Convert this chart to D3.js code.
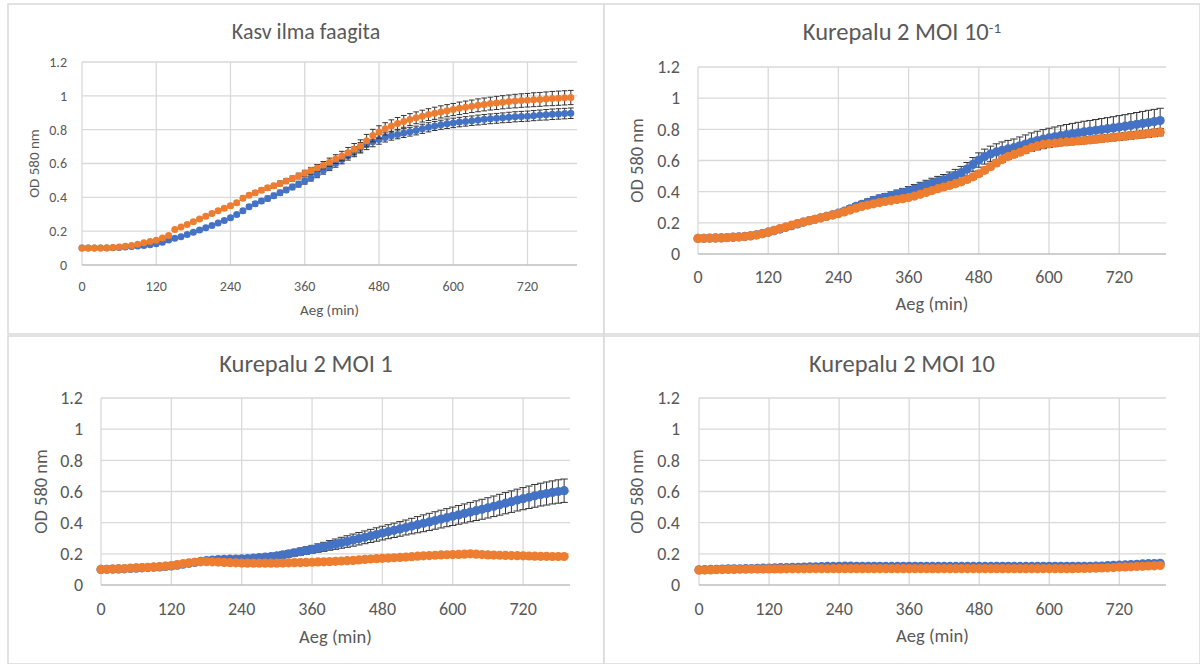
<!DOCTYPE html>
<html>
<head>
<meta charset="utf-8">
<script src="https://cdn.jsdelivr.net/npm/d3@7"></script>
<style>
  body { margin: 0; background: #fff; }
  svg { display: block; font-family: Carlito, Lato, "Open Sans", sans-serif; }
</style>
</head>
<body>
<svg id="chart" width="1200" height="664"></svg>
<script>
// sampling times (min)
const times = [0,10,20,30,40,50,60,70,80,90,100,110,120,130,140,150,160,170,180,190,
  200,210,220,230,240,250,260,270,280,290,300,310,320,330,340,350,360,370,380,390,
  400,410,420,430,440,450,460,470,480,490,500,510,520,530,540,550,560,570,580,590,
  600,610,620,630,640,650,660,670,680,690,700,710,720,730,740,750,760,770,780,790];

const xTicks = [0, 120, 240, 360, 480, 600, 720];
const yTicks = [0, 0.2, 0.4, 0.6, 0.8, 1, 1.2];
const yTickLabels = ["0", "0.2", "0.4", "0.6", "0.8", "1", "1.2"];

// Kasv ilma faagita
const growthBlue = [0.100,0.100,0.100,0.100,0.101,0.102,0.104,0.106,0.109,0.112,
  0.116,0.120,0.125,0.135,0.148,0.158,0.167,0.180,0.194,0.207,
  0.220,0.234,0.248,0.263,0.279,0.298,0.320,0.345,0.362,0.378,
  0.393,0.410,0.427,0.444,0.461,0.478,0.496,0.515,0.536,0.558,
  0.580,0.602,0.624,0.648,0.670,0.693,0.712,0.728,0.742,0.754,
  0.764,0.772,0.780,0.788,0.795,0.805,0.814,0.822,0.829,0.835,
  0.840,0.845,0.849,0.853,0.857,0.861,0.864,0.867,0.870,0.873,
  0.876,0.878,0.880,0.883,0.886,0.888,0.891,0.893,0.895,0.897];
const growthBlueErr = [0.002,0.002,0.002,0.002,0.002,0.002,0.003,0.003,0.003,0.004,
  0.004,0.004,0.005,0.005,0.006,0.006,0.007,0.007,0.008,0.008,
  0.009,0.009,0.010,0.010,0.011,0.011,0.012,0.012,0.013,0.013,
  0.014,0.014,0.015,0.015,0.016,0.017,0.018,0.019,0.020,0.021,
  0.022,0.024,0.026,0.028,0.030,0.031,0.030,0.029,0.028,0.027,
  0.026,0.026,0.026,0.026,0.026,0.027,0.027,0.027,0.027,0.028,
  0.028,0.028,0.028,0.028,0.029,0.029,0.029,0.029,0.029,0.030,
  0.030,0.030,0.030,0.030,0.030,0.031,0.031,0.031,0.031,0.031];
const growthOrange = [0.100,0.100,0.100,0.101,0.102,0.104,0.107,0.111,0.116,0.123,
  0.131,0.139,0.147,0.160,0.175,0.210,0.225,0.240,0.256,0.272,
  0.288,0.305,0.320,0.335,0.350,0.368,0.395,0.412,0.427,0.442,
  0.456,0.468,0.482,0.496,0.510,0.526,0.542,0.558,0.574,0.590,
  0.608,0.626,0.644,0.664,0.684,0.704,0.735,0.765,0.786,0.805,
  0.822,0.837,0.849,0.860,0.870,0.880,0.889,0.897,0.905,0.912,
  0.919,0.926,0.932,0.938,0.944,0.949,0.954,0.958,0.962,0.966,
  0.969,0.972,0.974,0.977,0.979,0.982,0.984,0.986,0.988,0.990];
const growthOrangeErr = [0.002,0.002,0.002,0.002,0.002,0.003,0.003,0.003,0.004,0.004,
  0.005,0.005,0.006,0.006,0.007,0.007,0.008,0.008,0.009,0.009,
  0.010,0.010,0.010,0.011,0.011,0.012,0.012,0.012,0.013,0.013,
  0.014,0.014,0.015,0.015,0.016,0.017,0.018,0.019,0.020,0.022,
  0.024,0.026,0.028,0.031,0.034,0.036,0.037,0.037,0.037,0.036,
  0.036,0.035,0.035,0.035,0.035,0.035,0.035,0.036,0.036,0.036,
  0.036,0.037,0.037,0.037,0.038,0.038,0.038,0.039,0.039,0.039,
  0.040,0.040,0.040,0.041,0.041,0.041,0.042,0.042,0.042,0.042];

// Kurepalu 2 MOI 10^-1
const moi01Blue = [0.100,0.101,0.102,0.103,0.104,0.106,0.108,0.110,0.113,0.117,
  0.123,0.131,0.140,0.150,0.160,0.171,0.182,0.193,0.204,0.214,
  0.223,0.232,0.242,0.252,0.262,0.275,0.290,0.305,0.318,0.332,
  0.345,0.355,0.364,0.374,0.384,0.394,0.405,0.417,0.430,0.442,
  0.454,0.465,0.476,0.490,0.505,0.522,0.545,0.575,0.603,0.625,
  0.642,0.655,0.665,0.674,0.682,0.694,0.706,0.718,0.728,0.737,
  0.745,0.752,0.759,0.766,0.772,0.778,0.784,0.789,0.794,0.799,
  0.804,0.809,0.815,0.820,0.826,0.832,0.838,0.844,0.850,0.856];
const moi01BlueErr = [0.003,0.003,0.003,0.004,0.004,0.004,0.005,0.005,0.005,0.006,
  0.006,0.007,0.007,0.008,0.008,0.009,0.009,0.010,0.010,0.011,
  0.012,0.013,0.014,0.015,0.016,0.017,0.018,0.019,0.020,0.021,
  0.022,0.023,0.024,0.025,0.026,0.027,0.028,0.029,0.030,0.031,
  0.032,0.033,0.034,0.036,0.038,0.040,0.042,0.044,0.046,0.048,
  0.050,0.052,0.054,0.055,0.056,0.057,0.058,0.059,0.060,0.061,
  0.062,0.063,0.064,0.065,0.066,0.067,0.068,0.068,0.069,0.070,
  0.071,0.072,0.073,0.074,0.075,0.076,0.077,0.078,0.078,0.079];
const moi01Orange = [0.100,0.100,0.101,0.102,0.103,0.105,0.107,0.109,0.112,0.116,
  0.122,0.130,0.140,0.151,0.163,0.174,0.185,0.195,0.205,0.214,
  0.223,0.232,0.241,0.250,0.259,0.270,0.282,0.294,0.305,0.314,
  0.322,0.330,0.337,0.343,0.349,0.355,0.362,0.372,0.383,0.395,
  0.407,0.419,0.430,0.440,0.451,0.463,0.478,0.495,0.515,0.537,
  0.560,0.584,0.606,0.625,0.639,0.653,0.668,0.682,0.694,0.703,
  0.708,0.712,0.716,0.719,0.722,0.725,0.728,0.732,0.736,0.740,
  0.744,0.748,0.752,0.756,0.760,0.764,0.768,0.772,0.777,0.782];
const moi01OrangeErr = [0.002,0.002,0.002,0.002,0.003,0.003,0.003,0.003,0.004,0.004,
  0.004,0.005,0.005,0.005,0.006,0.006,0.006,0.007,0.007,0.007,
  0.008,0.008,0.008,0.009,0.009,0.009,0.010,0.010,0.010,0.011,
  0.011,0.011,0.012,0.012,0.012,0.013,0.013,0.013,0.014,0.014,
  0.014,0.015,0.015,0.015,0.016,0.016,0.016,0.017,0.017,0.017,
  0.018,0.018,0.018,0.018,0.019,0.019,0.019,0.019,0.020,0.020,
  0.020,0.020,0.020,0.021,0.021,0.021,0.021,0.021,0.022,0.022,
  0.022,0.022,0.022,0.023,0.023,0.023,0.023,0.023,0.024,0.024];

// Kurepalu 2 MOI 1
const moi1Blue = [0.100,0.101,0.102,0.103,0.104,0.106,0.108,0.110,0.112,0.114,
  0.116,0.119,0.122,0.127,0.133,0.139,0.145,0.151,0.156,0.160,
  0.163,0.165,0.166,0.167,0.168,0.170,0.173,0.176,0.179,0.183,
  0.187,0.193,0.200,0.207,0.214,0.221,0.229,0.237,0.245,0.254,
  0.262,0.271,0.279,0.288,0.297,0.306,0.315,0.324,0.333,0.342,
  0.351,0.360,0.369,0.378,0.387,0.396,0.405,0.414,0.423,0.432,
  0.441,0.450,0.459,0.468,0.477,0.486,0.495,0.505,0.515,0.525,
  0.535,0.545,0.554,0.563,0.572,0.580,0.587,0.594,0.600,0.605];
const moi1BlueErr = [0.002,0.002,0.002,0.002,0.003,0.003,0.003,0.003,0.004,0.004,
  0.004,0.005,0.005,0.005,0.006,0.006,0.007,0.007,0.008,0.008,
  0.009,0.010,0.011,0.012,0.013,0.014,0.015,0.016,0.017,0.018,
  0.019,0.020,0.021,0.022,0.023,0.024,0.025,0.027,0.029,0.031,
  0.033,0.035,0.037,0.039,0.040,0.041,0.042,0.043,0.044,0.045,
  0.046,0.047,0.048,0.050,0.052,0.054,0.055,0.056,0.057,0.058,
  0.059,0.060,0.061,0.062,0.063,0.064,0.065,0.066,0.067,0.068,
  0.069,0.070,0.071,0.072,0.073,0.073,0.074,0.074,0.075,0.075];
const moi1Orange = [0.100,0.101,0.102,0.104,0.106,0.108,0.110,0.112,0.114,0.116,
  0.118,0.121,0.125,0.131,0.137,0.142,0.146,0.149,0.150,0.149,
  0.147,0.145,0.143,0.142,0.141,0.140,0.140,0.140,0.140,0.140,
  0.140,0.141,0.142,0.143,0.144,0.145,0.146,0.148,0.149,0.150,
  0.152,0.154,0.156,0.158,0.161,0.164,0.167,0.169,0.171,0.173,
  0.175,0.177,0.179,0.182,0.185,0.187,0.189,0.191,0.193,0.194,
  0.195,0.196,0.198,0.200,0.198,0.195,0.193,0.192,0.191,0.190,
  0.189,0.188,0.187,0.186,0.185,0.184,0.184,0.183,0.183,0.183];
const moi1OrangeErr = [0.002,0.002,0.002,0.002,0.002,0.003,0.003,0.003,0.003,0.003,
  0.004,0.004,0.004,0.004,0.004,0.005,0.005,0.005,0.005,0.005,
  0.005,0.005,0.005,0.005,0.005,0.005,0.005,0.005,0.005,0.005,
  0.005,0.005,0.005,0.005,0.005,0.006,0.006,0.006,0.006,0.006,
  0.006,0.006,0.006,0.006,0.006,0.007,0.007,0.007,0.007,0.007,
  0.007,0.007,0.007,0.007,0.007,0.008,0.008,0.008,0.008,0.008,
  0.008,0.008,0.008,0.008,0.008,0.008,0.008,0.008,0.008,0.008,
  0.008,0.008,0.008,0.008,0.008,0.008,0.008,0.008,0.008,0.008];

// Kurepalu 2 MOI 10
const moi10Blue = [0.098,0.099,0.100,0.101,0.102,0.103,0.104,0.104,0.105,0.106,
  0.107,0.108,0.109,0.110,0.111,0.112,0.113,0.114,0.115,0.116,
  0.117,0.118,0.119,0.119,0.120,0.121,0.121,0.120,0.120,0.120,
  0.120,0.120,0.119,0.119,0.119,0.120,0.120,0.120,0.120,0.119,
  0.119,0.119,0.119,0.119,0.119,0.119,0.119,0.119,0.119,0.119,
  0.119,0.120,0.120,0.120,0.119,0.119,0.119,0.119,0.119,0.120,
  0.120,0.120,0.120,0.120,0.120,0.120,0.120,0.120,0.121,0.122,
  0.124,0.126,0.127,0.129,0.131,0.133,0.135,0.137,0.138,0.139];
const moi10BlueErr = [0.003,0.003,0.003,0.003,0.003,0.003,0.003,0.003,0.003,0.003,
  0.003,0.003,0.003,0.003,0.003,0.003,0.003,0.003,0.003,0.003,
  0.004,0.004,0.004,0.004,0.004,0.004,0.004,0.004,0.004,0.004,
  0.004,0.004,0.004,0.004,0.004,0.004,0.004,0.004,0.004,0.004,
  0.004,0.004,0.004,0.004,0.004,0.004,0.004,0.004,0.004,0.004,
  0.004,0.004,0.004,0.004,0.004,0.004,0.004,0.004,0.004,0.004,
  0.004,0.004,0.004,0.004,0.004,0.004,0.004,0.004,0.004,0.004,
  0.005,0.005,0.005,0.005,0.005,0.005,0.005,0.005,0.005,0.005];
const moi10Orange = [0.095,0.096,0.097,0.098,0.099,0.100,0.100,0.101,0.101,0.102,
  0.102,0.102,0.103,0.103,0.103,0.104,0.104,0.104,0.104,0.105,
  0.105,0.105,0.105,0.105,0.105,0.105,0.105,0.105,0.105,0.105,
  0.105,0.105,0.105,0.105,0.105,0.105,0.105,0.105,0.105,0.105,
  0.105,0.105,0.105,0.105,0.105,0.105,0.105,0.105,0.105,0.105,
  0.105,0.105,0.105,0.105,0.105,0.105,0.105,0.105,0.105,0.105,
  0.105,0.105,0.105,0.105,0.105,0.106,0.106,0.107,0.108,0.109,
  0.110,0.112,0.115,0.116,0.117,0.119,0.120,0.122,0.123,0.125];
const moi10OrangeErr = [0.003,0.003,0.003,0.003,0.003,0.003,0.003,0.003,0.003,0.003,
  0.003,0.003,0.003,0.003,0.003,0.003,0.003,0.003,0.003,0.003,
  0.003,0.003,0.003,0.003,0.003,0.003,0.003,0.003,0.003,0.003,
  0.003,0.003,0.003,0.003,0.003,0.003,0.003,0.003,0.003,0.003,
  0.003,0.003,0.003,0.003,0.003,0.003,0.003,0.003,0.003,0.003,
  0.003,0.003,0.003,0.003,0.003,0.003,0.003,0.003,0.003,0.003,
  0.003,0.003,0.003,0.003,0.003,0.003,0.003,0.003,0.003,0.003,
  0.003,0.003,0.003,0.003,0.003,0.003,0.003,0.003,0.003,0.003];

const blue = "#4472c4", orange = "#ed7d31", textColor = "#595959";

const panels = [
  { title: "Kasv ilma faagita", sup: null,
    box: [8, 4, 604, 334], plot: {left: 82, right: 577, top: 62, bottom: 265},
    titleY: 31, titleSize: 22, tickSize: 14, labelSize: 15, r: 3.5,
    yTickX: 67, xTickY: 286, xTitleY: 310, yTitleX: 34,
    series: [[growthBlue, growthBlueErr, blue], [growthOrange, growthOrangeErr, orange]] },
  { title: "Kurepalu 2 MOI 10", sup: "-1",
    box: [604, 4, 1200, 334], plot: {left: 698, right: 1166, top: 67, bottom: 254},
    titleY: 31, titleSize: 24.5, tickSize: 18, labelSize: 18.5, r: 4.6,
    yTickX: 680, xTickY: 277, xTitleY: 304, yTitleX: 637,
    series: [[moi01Blue, moi01BlueErr, blue], [moi01Orange, moi01OrangeErr, orange]] },
  { title: "Kurepalu 2 MOI 1", sup: null,
    box: [8, 336, 604, 664], plot: {left: 101, right: 570, top: 398, bottom: 585},
    titleY: 363, titleSize: 24.5, tickSize: 18, labelSize: 18.5, r: 4.6,
    yTickX: 83, xTickY: 609, xTitleY: 637, yTitleX: 41,
    series: [[moi1Blue, moi1BlueErr, blue], [moi1Orange, moi1OrangeErr, orange]] },
  { title: "Kurepalu 2 MOI 10", sup: null,
    box: [604, 336, 1200, 664], plot: {left: 699, right: 1166, top: 398, bottom: 585},
    titleY: 363, titleSize: 24.5, tickSize: 18, labelSize: 18.5, r: 4.6,
    yTickX: 680, xTickY: 609, xTitleY: 636, yTitleX: 637,
    series: [[moi10Blue, moi10BlueErr, blue], [moi10Orange, moi10OrangeErr, orange]] }
];

const svg = d3.select("#chart");

function drawPanel(p) {
  const g = svg.append("g");
  const [bx0, by0, bx1, by1] = p.box;

  g.append("rect")
      .attr("x", bx0).attr("y", by0)
      .attr("width", bx1 - bx0).attr("height", by1 - by0)
      .attr("fill", "#fff")
      .attr("stroke", "#d9d9d9")
      .attr("stroke-width", 1.5);

  const x = d3.scaleLinear().domain([0, 800]).range([p.plot.left, p.plot.right]);
  const y = d3.scaleLinear().domain([0, 1.2]).range([p.plot.bottom, p.plot.top]);

  // gridlines
  g.append("g").selectAll("line.h")
    .data(yTicks.slice(1))
    .join("line")
      .attr("x1", p.plot.left).attr("x2", p.plot.right)
      .attr("y1", d => y(d)).attr("y2", d => y(d))
      .attr("stroke", "#d9d9d9").attr("stroke-width", 1.3);
  g.append("g").selectAll("line.v")
    .data(xTicks)
    .join("line")
      .attr("x1", d => x(d)).attr("x2", d => x(d))
      .attr("y1", p.plot.top).attr("y2", p.plot.bottom)
      .attr("stroke", "#d9d9d9").attr("stroke-width", 1.3);
  g.append("line")
      .attr("x1", p.plot.left).attr("x2", p.plot.right)
      .attr("y1", y(0)).attr("y2", y(0))
      .attr("stroke", "#bfbfbf").attr("stroke-width", 1.3);

  // tick labels
  g.append("g").selectAll("text")
    .data(yTicks)
    .join("text")
      .attr("x", p.yTickX)
      .attr("y", d => y(d))
      .attr("dy", "0.35em")
      .attr("text-anchor", "end")
      .attr("font-size", p.tickSize)
      .attr("fill", textColor)
      .text((d, i) => yTickLabels[i]);
  g.append("g").selectAll("text")
    .data(xTicks)
    .join("text")
      .attr("x", d => x(d))
      .attr("y", p.xTickY)
      .attr("dy", "0.35em")
      .attr("text-anchor", "middle")
      .attr("font-size", p.tickSize)
      .attr("fill", textColor)
      .text(d => d);

  // series: error bars then markers
  const cap = p.r * 0.8;
  p.series.forEach(([vals, errs, color]) => {
    const pts = times.map((t, i) => ({t, v: vals[i], e: errs[i]}));
    const eb = g.append("g")
        .attr("stroke", "#333")
        .attr("stroke-width", 1);
    eb.selectAll("line.bar")
      .data(pts)
      .join("line")
        .attr("x1", d => x(d.t)).attr("x2", d => x(d.t))
        .attr("y1", d => y(d.v - d.e)).attr("y2", d => y(d.v + d.e));
    eb.selectAll("line.top")
      .data(pts)
      .join("line")
        .attr("x1", d => x(d.t) - cap).attr("x2", d => x(d.t) + cap)
        .attr("y1", d => y(d.v + d.e)).attr("y2", d => y(d.v + d.e));
    eb.selectAll("line.bot")
      .data(pts)
      .join("line")
        .attr("x1", d => x(d.t) - cap).attr("x2", d => x(d.t) + cap)
        .attr("y1", d => y(d.v - d.e)).attr("y2", d => y(d.v - d.e));
    g.append("g").selectAll("circle")
      .data(pts)
      .join("circle")
        .attr("cx", d => x(d.t))
        .attr("cy", d => y(d.v))
        .attr("r", p.r)
        .attr("fill", color);
  });

  // titles
  const title = g.append("text")
      .attr("x", (bx0 + bx1) / 2)
      .attr("y", p.titleY)
      .attr("dy", "0.35em")
      .attr("text-anchor", "middle")
      .attr("font-size", p.titleSize)
      .attr("fill", textColor)
      .text(p.title);
  if (p.sup) {
    title.append("tspan")
        .attr("dy", "-0.45em")
        .attr("font-size", p.titleSize * 0.62)
        .text(p.sup);
  }

  g.append("text")
      .attr("x", (p.plot.left + p.plot.right) / 2)
      .attr("y", p.xTitleY)
      .attr("dy", "0.35em")
      .attr("text-anchor", "middle")
      .attr("font-size", p.labelSize)
      .attr("fill", textColor)
      .text("Aeg (min)");

  g.append("text")
      .attr("transform", `translate(${p.yTitleX},${(p.plot.top + p.plot.bottom) / 2}) rotate(-90)`)
      .attr("dy", "0.35em")
      .attr("text-anchor", "middle")
      .attr("font-size", p.labelSize)
      .attr("fill", textColor)
      .text("OD 580 nm");
}

panels.forEach(drawPanel);
</script>
</body>
</html>
